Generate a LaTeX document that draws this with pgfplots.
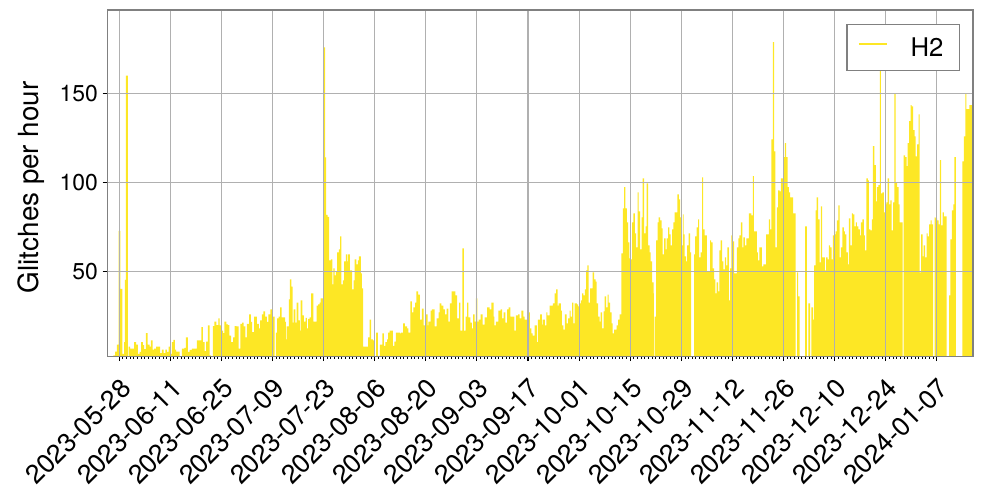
\documentclass[border=0pt]{standalone}
\usepackage{fontspec}
\setmainfont{TeX Gyre Heros}
\usepackage{pgfplots}
\pgfplotsset{compat=1.18}
\definecolor{hcol}{HTML}{FDE725}
\definecolor{framegray}{HTML}{808080}
\definecolor{gridgray}{HTML}{B0B0B0}
\newcommand{\xtickfont}{\fontsize{19bp}{23bp}\selectfont}
\newcommand{\ytickfont}{\fontsize{16.5bp}{20bp}\selectfont}
\newcommand{\labfont}{\fontsize{20bp}{24bp}\selectfont}
\newcommand{\legfont}{\fontsize{18.5bp}{22bp}\selectfont}

\begin{document}
\begin{tikzpicture}
\begin{axis}[
  name=ax,
  scale only axis,
  width=622.8bp, height=249.1bp,
  xmin=-3.18, xmax=233.9, ymin=2.1, ymax=197,
  axis on top,
  axis line style={draw=framegray, line width=0.8bp},
  tick align=outside, tick pos=left,
  xtick={0,14,...,224},
  xticklabels={2023-05-28,2023-06-11,2023-06-25,2023-07-09,2023-07-23,2023-08-06,
    2023-08-20,2023-09-03,2023-09-17,2023-10-01,2023-10-15,2023-10-29,
    2023-11-12,2023-11-26,2023-12-10,2023-12-24,2024-01-07},
  minor x tick num=13,
  ytick={50,100,150},
  minor y tick num=0,
  major tick length=3.5bp, minor tick length=2bp,
  major tick style={black, line width=0.8bp},
  minor tick style={black, line width=0.6bp},
  grid=major,
  major grid style={draw=gridgray, line width=0.8bp},
  x tick label style={font=\xtickfont, rotate=45, anchor=north east, inner sep=0pt, xshift=-8bp, yshift=-8bp},
  y tick label style={font=\ytickfont, /pgf/number format/assume math mode=true},
  ylabel={Glitches per hour},
  ylabel style={font=\labfont, at={(axis description cs:-0.0879,0.488)}, anchor=center},
  legend style={at={(rel axis cs:1,1)}, anchor=north east, xshift=-9.4bp, yshift=-10.3bp,
    draw=framegray, line width=0.8bp, fill=white, font=\legfont,
    inner xsep=0pt, inner ysep=9pt, nodes={inner sep=0pt}},
  legend image code/.code={\draw[#1] (8bp,0.28em) -- (28bp,0.28em); \path (0bp,0bp) (44.5bp,0bp);},
]
\addlegendimage{draw=hcol, line width=1.2bp}
\addlegendentry{H2\hspace*{11.5bp}}

\addplot[forget plot, const plot, fill=hcol, draw=none] coordinates {
(-1.56,2.5) (-1.10,4.7) (-0.64,8.6) (-0.15,72.6) (0.3,40) (0.91,3.4) (1.37,10) (1.56,45) (1.83,160) (2.38,0)
(2.56,7.5) (3.02,6.4) (4.12,10) (4.67,8.6) (5.12,3.4) (5.58,4.5) (6.04,10) (6.50,8.3) (6.86,6) (7.32,15)
(7.78,8.6) (8.33,7.5) (8.69,11) (9.15,5.8) (9.61,6.4) (10.16,7.5) (11.25,3.8) (11.71,5.8) (12.17,3.8) (12.63,5.8)
(13.08,4.5) (13.54,7.5) (14.0,3.4) (14.46,10) (14.82,11.3) (15.28,5.8) (15.64,4.7) (16.56,0) (17.2,6.4) (17.84,6.8)
(18.3,12.6) (18.85,4.5) (19.3,5.6) (19.95,6.4) (21.3,11) (22.5,18.4) (22.96,10) (23.4,4.9) (23.8,10.3) (24.3,19.4)
(24.8,2.5) (25.2,0) (25.7,19) (26.1,21.6) (26.6,19.5) (27.2,23.3) (27.5,19.4) (28.0,16.5) (28.45,15) (28.8,21.6)
(29.4,20) (29.8,19.5) (30.2,13.7) (30.65,10) (31.2,12.6) (31.65,19) (32.1,18.8) (32.75,6.4) (33.2,20.3) (33.7,21)
(34.1,18.8) (34.6,12.6) (35.0,20.3) (35.6,25.6) (36.1,21.4)
(36.45,15.6) (37.0,24.4) (37.7,20.3) (38.3,17.7) (38.6,22.2) (39.1,25.6) (39.5,27.3) (40.0,24.4) (40.5,21.4) (40.9,25.6)
(41.4,28.4) (41.9,24.4) (42.6,0) (42.9,15.4) (43.3,23.3) (43.7,24.4) (44.1,29.5) (44.5,24) (45.5,21.4) (45.7,11.5)
(45.9,18.8) (46.5,34) (46.8,45.3) (47.2,41.3) (47.5,21) (47.8,28.4) (48.3,21) (48.6,32.3) (49.1,22.2) (49.5,16.5)
(49.7,33.5) (50.2,25) (50.6,21.6) (51.1,23.7) (51.4,17.7) (51.8,23.1) (52.2,24) (52.6,37.5) (53.2,21.6) (54.1,30.6)
(54.5,31.2) (54.9,32.3) (55.2,34.6) (56.0,176) (56.4,114) (56.7,81.6) (57.1,80.5) (57.5,56) (58.0,56.6) (58.4,42.5)
(58.7,51.5) (59.0,47.6) (59.4,49.8) (59.7,60.5) (60.2,62.2) (60.5,69.5) (60.9,42.5) (61.3,44.7) (61.6,55.5) (62.1,59.4)
(62.5,55.5) (62.7,59.4) (63.2,50.4) (63.8,39.7) (64.2,44.7) (64.5,56.6) (65.0,53.8) (65.4,56) (65.7,58.3) (66.2,48.7)
(66.5,40.2) (66.8,7.5) (67.7,7.5) (68.2,12.6) (68.6,22.7) (69.0,11.5) (69.5,11) (69.9,0) (70.4,15.4) (70.9,2.3)
(71.4,8.6) (72.1,14.9) (72.5,7.9) (72.9,10) (73.4,11.5) (73.7,15.4) (74.1,16.5) (75.0,7.9) (75.4,10.3)
(75.8,15.4) (76.9,14.9) (77.2,15.4) (77.8,20.5) (78.3,18.8) (78.9,17.7) (79.2,15.4) (79.8,32.9) (80.2,26.7) (80.6,29.5)
(81.1,32.3) (81.4,38.5) (81.9,36.8) (82.4,22.7) (82.9,28.9) (83.4,19.4) (84.0,25.6) (84.5,19.4) (84.7,21.6) (85.3,27.8)
(85.7,28.4) (86.4,18.8) (87.0,23.3) (87.5,26.7) (87.8,31.8) (88.3,30.6) (88.8,28.4) (89.2,25.6) (89.7,28.9) (90.2,21.6)
(90.6,31.8) (91.1,38.5) (91.6,38.5) (92.1,36.3) (92.6,23.3) (93.1,32.3) (93.5,16.5) (94.0,62.8) (94.4,16.5) (94.9,24.4)
(95.3,32.3) (95.7,23.9) (96.2,21) (96.6,17.7) (97.0,25.6) (97.4,21.6) (97.7,34.6) (98.1,21.6) (98.5,22.7) (99.0,25.6)
(99.6,19.9) (100.1,23.9) (100.8,29.5) (101.5,28.4) (102.0,32.3) (102.6,24.4) (102.8,19.4) (103.2,21.6) (103.9,27.8) (104.5,28.4)
(104.9,23.3) (105.3,26.7) (105.8,21) (106.3,28.4) (106.7,29.5) (107.2,24.4) (107.8,24.4) (108.3,16.5) (108.7,25) (109.3,25.6)
(109.7,23.3) (110.2,27.8) (110.7,24.4) (111.1,22.7) (112.0,26.7) (112.5,17.7) (112.9,14.9) (113.3,13.7) (113.8,19.4) (114.4,10)
(114.7,22.7)
(115.3,25.6) (115.8,19.9) (116.0,22.7) (116.6,19.4) (117.0,26.7) (117.3,25) (117.9,30.6) (118.2,30.6) (118.8,31.8) (119.3,37.5)
(119.7,39.7) (120.1,30.6) (120.4,31.8) (121.0,27.8) (121.3,19.4) (121.7,17.1) (122.1,25.6) (122.6,20.5) (123.0,23.3) (123.4,27.8)
(123.7,24.4) (124.1,32.3) (124.4,20.5) (124.8,31.8) (125.4,31.2) (125.7,30.1) (126.1,31.8) (126.5,33.5) (126.8,37.5) (127.2,36.3)
(127.6,39.7) (127.9,50.4) (128.3,53.2) (128.6,32.3) (129.0,40.2) (129.4,40.2) (129.7,49.2) (130.1,45.3) (130.5,44.1) (130.8,31.8)
(131.2,24.4) (131.6,21.6) (131.9,26.7) (132.3,17.7) (132.7,27.3) (133.0,35.7) (133.4,29.5) (133.8,36.8) (134.1,32.3) (134.5,26.7)
(134.9,20.5) (135.2,14.9) (135.6,17.1) (136.0,17.1) (136.3,19.4) (136.7,22.7) (137.1,25.6) (137.6,60) (138.0,85.3) (138.3,97.2)
(138.7,85.3) (139.1,77.4) (139.4,66.1) (139.8,57.2) (140.2,56.6) (140.5,77.4) (140.9,82.5) (141.3,71.2) (141.6,63.3) (142.0,94.3)
(142.3,83.6) (142.7,62.2) (143.1,80.2) (143.4,102.2) (143.8,71.2) (144.2,75.2) (144.5,99.4) (144.9,64.5) (145.3,60.5) (145.6,55.5)
(146.0,43.6) (146.4,37.5) (146.5,0) (146.7,24.4) (147.1,67.3) (147.5,77.4) (147.8,80.2) (148.2,78.5) (148.6,74) (148.9,59.4)
(149.3,68.4) (149.7,62.2) (150.0,68.4) (150.4,74.6) (150.7,70.7) (151.1,64.5) (151.5,73.5) (151.8,77.4) (152.2,83) (152.6,83)
(152.9,93.2) (153.3,90.4) (153.7,80.2) (154.0,64.5) (154.4,81.9)
(154.6,70.7) (154.9,58.3) (155.3,55.5) (155.6,64.5) (156.0,71.2) (156.4,60.5) (156.7,0) (157.5,59.4) (157.8,69.5) (158.2,74.6)
(158.6,79.1) (158.9,57.7) (159.3,60.5) (159.7,102.8) (160.0,73.5) (160.4,70.1) (161.0,49.8) (161.3,49.8) (161.9,67.3) (162.2,66.1)
(162.6,51.5) (163.0,45.3) (163.3,37.5) (163.7,43.6) (164.1,38.5) (164.4,61.7) (164.8,67.3) (165.2,55.5) (165.5,50.9) (165.9,57.7)
(166.3,53.2) (166.6,63.3) (167.0,33.5) (167.4,51.5) (167.7,70.1) (168.1,66.7) (168.5,48.7) (168.8,48.7) (169.2,63.3) (169.6,68.4)
(169.9,70.1) (170.3,77.4) (170.7,63.3) (171.0,69) (171.4,64.5) (171.8,68.4) (172.1,68.4) (172.5,82.5) (172.8,82.5) (173.2,81.4)
(173.6,103.4) (173.9,72.4) (174.3,72.4) (174.7,60.5) (175.0,56) (175.4,63.3) (175.8,63.3) (176.1,52.6) (176.5,53.8) (176.9,53.8)
(177.2,70.7) (177.6,70.7) (178.0,79.1) (178.3,73.5) (178.7,124.2) (179.1,178.9) (179.4,117.4) (179.8,63.3) (180.2,85.9) (180.5,95.5)
(180.9,94.9) (181.3,102.2) (181.6,102.2) (182.0,114.1) (182.4,122) (182.7,114.1) (183.1,97.2) (183.5,94.3) (183.8,91.5) (184.2,91.5)
(184.6,82.5) (184.9,82.5) (185.3,0) (185.7,49.2) (186.0,35.7) (186.4,0) (187.9,75.2) (188.4,0) (188.8,31.8) (189.3,0)
(189.6,29.5) (190.1,22.7) (190.4,53.2) (190.8,84.2) (191.1,91.5) (191.5,79.1) (191.9,54.9) (192.2,86.5) (192.6,57.7) (193.0,57.7)
(193.3,50.4) (193.7,57.7)
(194.1,56.6) (194.4,64.5) (194.8,63.3) (195.2,56.6) (195.5,70.1) (195.9,70.7) (196.3,72.4) (196.6,78.5) (197.0,87) (197.4,57.7)
(197.7,63.3) (198.1,74.6) (198.5,72.4) (198.8,70.7) (199.2,60.5) (199.6,53.8) (199.9,79.7) (200.3,64.5) (200.7,82.5) (201.0,81.9)
(201.4,75.2) (201.8,77.4) (202.1,75.2) (202.5,73.5) (202.9,70.1) (203.2,77.4) (203.6,79.1) (204.0,70.1) (204.3,61.7) (204.7,102.2)
(205.1,101.1) (205.4,73.5) (205.8,72.9) (206.2,79.1) (206.5,120.3) (206.9,109.6) (207.3,89.3) (207.6,97.2) (208.0,98.4) (208.4,173.3)
(208.7,93.8) (209.1,94.3) (209.5,83) (209.8,87.6) (210.2,88.7) (210.5,102.2) (210.9,87.6) (211.3,89.8) (211.6,72.9) (212.0,88.7)
(212.4,150.2) (212.7,100) (213.1,97.2) (213.5,87.6) (213.8,77.4) (214.2,77.4) (214.6,0) (214.9,115.2) (215.3,114.1) (215.7,109.1)
(216.0,122) (216.4,134.4) (216.8,143.4) (217.1,142.8) (217.5,129.3) (217.9,125.9) (218.2,114.6) (218.6,121.4) (219.0,138.3) (219.3,49.2)
(219.7,70.7) (220.1,58.3) (220.4,64.5) (220.8,57.7) (221.2,71.2) (221.5,69.5) (221.9,76.3) (222.3,78.5) (222.6,76.3) (223.0,0)
(223.4,80.2) (223.7,79.7) (224.1,78.5) (224.5,76.3) (224.8,112.5) (225.2,75.7) (225.6,83) (225.9,80.8) (226.3,80.8) (226.7,0)
(227.4,36.3) (227.7,67.9) (228.1,84.2) (228.5,87.6) (228.8,114.1) (229.2,0) (231.0,111.8) (231.4,125.9) (231.8,149.6) (232.1,141.2)
(232.5,141.2) (232.9,143.4) (233.2,143.4) (233.6,143.4) (234.0,143.4)
} \closedcycle;
\end{axis}
% page margins as in the reference
\path ([shift={(-77.4bp,-92.2bp)}]ax.south west) rectangle ([shift={(6.5bp,7.2bp)}]ax.north east);
\end{tikzpicture}
\end{document}
